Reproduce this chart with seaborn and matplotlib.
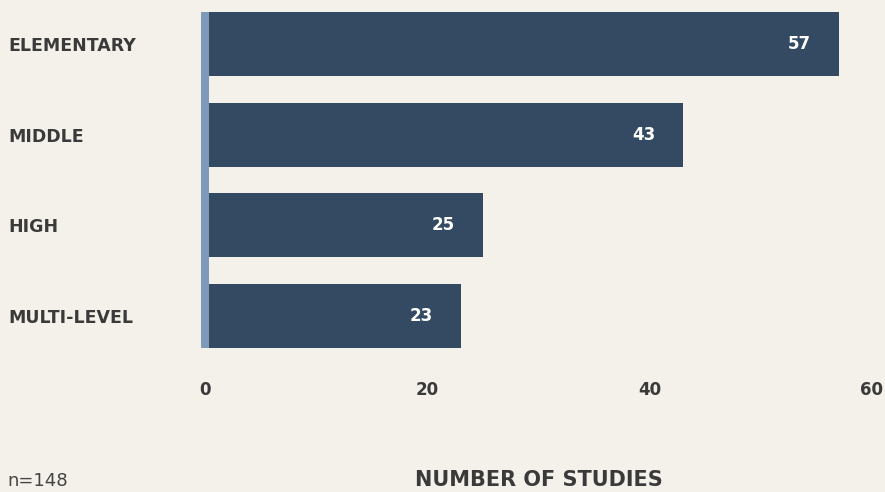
import matplotlib
matplotlib.use("Agg")
import matplotlib.pyplot as plt
import seaborn as sns
import pandas as pd

categories = ["ELEMENTARY", "MIDDLE", "HIGH", "MULTI-LEVEL"]
studies = [57, 43, 25, 23]
x_ticks = [0, 20, 40, 60]
x_title = "NUMBER OF STUDIES"
note = "n=148"

BG = "#f4f1ea"
BAR = "#344a63"
AXIS = "#7e9aba"
TXT = "#3a3a3a"

df = pd.DataFrame({"level": categories, "studies": studies})

sns.set_style("white")
plt.rcParams["font.family"] = ["DejaVu Sans"]

W, H = 885, 492
fig = plt.figure(figsize=(W / 100, H / 100), dpi=100, facecolor=BG)
left_px, right_px, top_px, bot_px = 205, 872, 12, 348
ax = fig.add_axes([left_px / W, 1 - bot_px / H, (right_px - left_px) / W, (bot_px - top_px) / H])
ax.set_facecolor(BG)

sns.barplot(data=df, x="studies", y="level", orient="h", color=BAR,
            saturation=1, width=0.706, ax=ax, errorbar=None, linewidth=0)

ax.set_xlim(0, 60)
half = 0.706 / 2
ax.set_ylim(len(categories) - 1 + half, -half)

for s in ["top", "right", "bottom"]:
    ax.spines[s].set_visible(False)
ax.spines["left"].set_color(AXIS)
ax.spines["left"].set_linewidth(8 * 0.72)
ax.spines["left"].set_capstyle("butt")
ax.spines["left"].set_zorder(3)

ax.set_xlabel("")
ax.set_ylabel("")
ax.set_xticks(x_ticks)
ax.set_xticklabels([str(t) for t in x_ticks], fontsize=12, fontweight="bold", color=TXT)
ax.tick_params(axis="x", length=0, pad=24)
ax.set_yticks(range(len(categories)))
ax.set_yticklabels(categories, fontsize=12.5, fontweight="bold", color=TXT)
ax.tick_params(axis="y", length=0, pad=(left_px - 8) * 0.72)
for lab in ax.get_yticklabels():
    lab.set_ha("left")

for i, v in enumerate(studies):
    ax.annotate(str(v), xy=(v, i), xytext=(-28 * 0.72, 0), textcoords="offset points",
                ha="right", va="center", color="white", fontsize=12, fontweight="bold")

fig.text(0.5 * (left_px + right_px) / W, 6 / H, x_title, ha="center", va="baseline",
         fontsize=15, fontweight="bold", color=TXT)
fig.text(7 / W, 6 / H, note, ha="left", va="baseline", fontsize=13, color="#444444")

fig.savefig("out.png", dpi=100, facecolor=BG)
